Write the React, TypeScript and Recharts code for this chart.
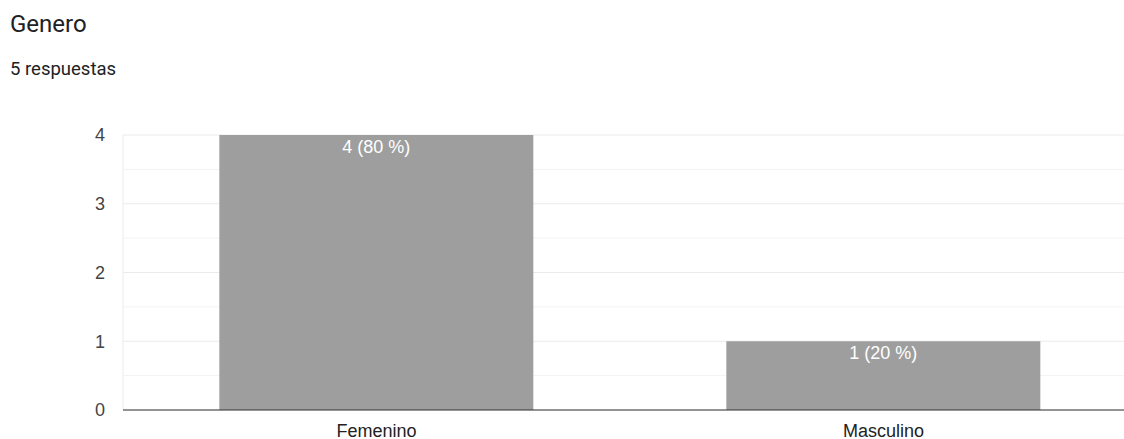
import { BarChart, Bar, XAxis, YAxis, CartesianGrid, LabelList } from "recharts";

const categories = ["Femenino", "Masculino"];
const counts = [4, 1];
const yTicks = [0, 1, 2, 3, 4];
const minorLines = [0.5, 1.5, 2.5, 3.5];

const total = counts.reduce((a, b) => a + b, 0);
const data = categories.map((name, i) => ({ name, value: counts[i] }));

const headFont = "Roboto, Arial, sans-serif";
const chartFont = "'Liberation Sans', Arial, sans-serif";

const barLabel = (v: any) => `${v} (${Math.round((Number(v) / total) * 100)} %)`;

const App = () => {
  return (
    <div style={{ position: "absolute", top: 0, left: 0, width: 1124, height: 439, overflow: "hidden", background: "#fff" }}>
      <div style={{ position: "absolute", left: 10, top: 10, fontSize: 24, color: "#202124", fontFamily: headFont }}>Genero</div>
      <div style={{ position: "absolute", left: 10, top: 58, fontSize: 18.5, color: "#202124", fontFamily: headFont }}>5 respuestas</div>
      <div style={{ position: "absolute", left: 0, top: 0 }}>
        <BarChart
          width={1137}
          height={439}
          data={data}
          margin={{ top: 135, right: 0, bottom: 0, left: 0 }}
          barCategoryGap="19%"
        >
          {/* half-step lines, lighter */}
          <CartesianGrid vertical={false} horizontalValues={minorLines} stroke="#f3f3f3" />
          <CartesianGrid vertical={false} horizontalValues={yTicks} stroke="#ebebeb" />
          <YAxis
            width={123}
            domain={[0, 4]}
            ticks={yTicks}
            tickLine={false}
            tickMargin={12}
            axisLine={{ stroke: "#ebebeb" }}
            tick={{ fill: "#444", fontSize: 18, fontFamily: chartFont }}
          />
          <XAxis
            dataKey="name"
            height={29}
            tickLine={false}
            tickMargin={8}
            axisLine={{ stroke: "#333", strokeWidth: 1 }}
            tick={{ fill: "#222", fontSize: 18, fontFamily: chartFont }}
          />
          <Bar dataKey="value" fill="#9e9e9e" isAnimationActive={false}>
            <LabelList
              dataKey="value"
              position="insideTop"
              formatter={barLabel}
              fill="#fff"
              style={{ fontSize: 18, fontFamily: chartFont }}
            />
          </Bar>
        </BarChart>
      </div>
    </div>
  );
};

export default App;
